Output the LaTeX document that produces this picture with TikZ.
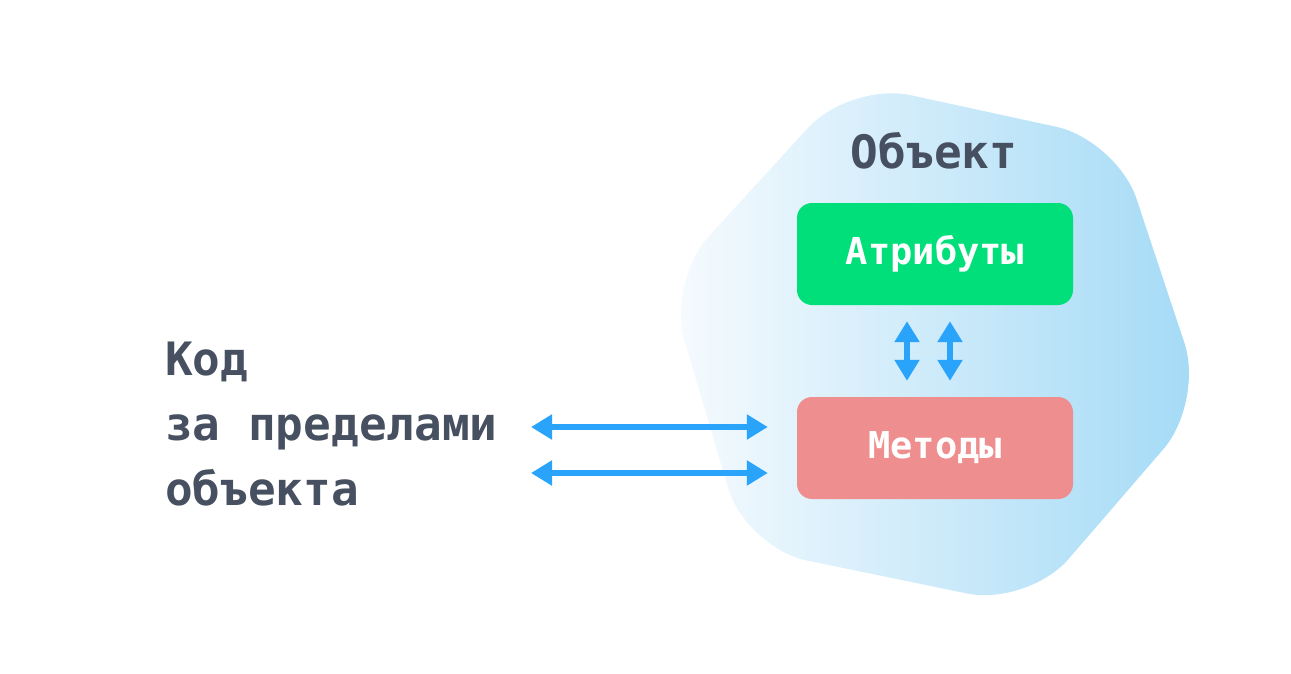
\documentclass[tikz,border=0pt]{standalone}
\usepackage{fontspec}
\setmonofont{DejaVu Sans Mono}
\usetikzlibrary{arrows.meta}
\definecolor{ink}{RGB}{71,80,96}
\definecolor{arrowblue}{RGB}{42,163,250}
\definecolor{attrgreen}{RGB}{0,223,122}
\definecolor{methred}{RGB}{238,142,142}
\definecolor{blobl}{RGB}{247,251,254}
\definecolor{blobr}{RGB}{163,218,246}
\begin{document}
\begin{tikzpicture}[x=1pt,y=-1pt,
  caption/.style={font=\ttfamily\bfseries\fontsize{46}{65}\selectfont, text=ink, inner sep=0pt},
  box/.style={rounded corners=15pt, minimum width=276pt, minimum height=102pt, inner sep=0pt,
    font=\ttfamily\bfseries\fontsize{37}{44}\selectfont, text=white},
  biarrow/.style={draw=arrowblue, line width=5.5pt,
    {Triangle[length=21pt,width=24pt]}-{Triangle[length=21pt,width=24pt]}}
]
\useasboundingbox (0,0) rectangle (1291,673);

% the object: a soft hexagon with a horizontal gradient
\shade[left color=blobl, right color=blobr, rounded corners=62pt]
  (850,82) -- (1117,140) -- (1204,402) -- (1028,606) -- (746,548) -- (667,282) -- cycle;

\node[caption, anchor=base] (title) at (934,168) {Объект};
\node[box, fill=attrgreen] (attr) at (935,254) {Атрибуты};
\node[box, fill=methred] (meth) at (935,448) {Методы};

\node[caption, anchor=base west, align=left] (code) at (165,505) {Код\\за пределами\\объекта};

% calls from outside code into the methods
\coordinate (h1) at (531,427);
\coordinate (h2) at (531,473);
\draw[biarrow, shorten >=29pt] (h1) -- (h1 -| meth.west);
\draw[biarrow, shorten >=29pt] (h2) -- (h2 -| meth.west);

% methods work with the attributes
\draw[biarrow, shorten <=16pt, shorten >=16pt] ([xshift=-28pt]attr.south) -- ([xshift=-28pt]meth.north);
\draw[biarrow, shorten <=16pt, shorten >=16pt] ([xshift=15pt]attr.south) -- ([xshift=15pt]meth.north);
\end{tikzpicture}
\end{document}
